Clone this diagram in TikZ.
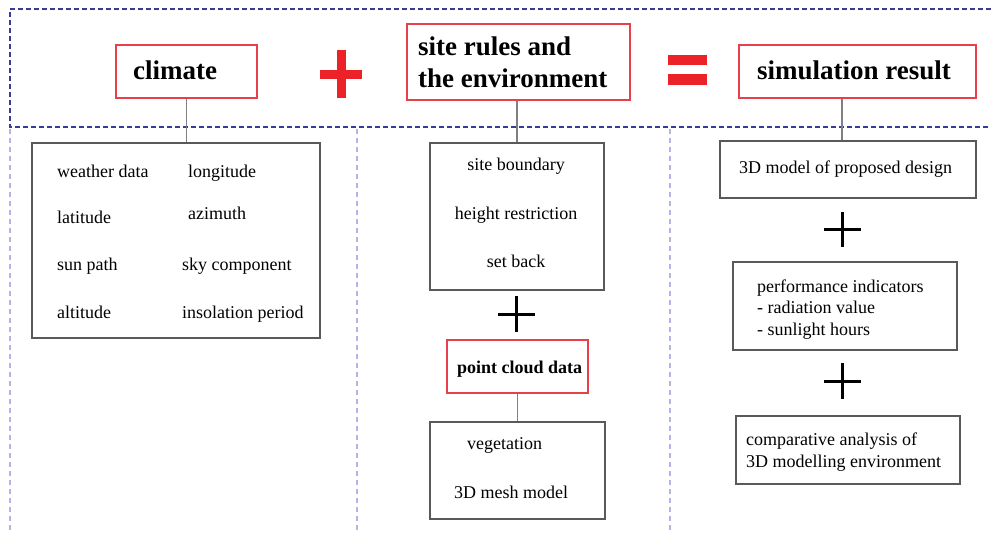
\documentclass[tikz,border=0pt]{standalone}
\usepackage{fontspec}
\setmainfont{Liberation Serif}
\usetikzlibrary{positioning}
\definecolor{boxred}{HTML}{E8404A}
\definecolor{signred}{HTML}{EC2229}
\definecolor{navydash}{HTML}{3A3A9C}
\definecolor{lavdash}{HTML}{B4B4E6}
\tikzset{
	headbox/.style={draw=boxred, line width=1.8pt, inner sep=0pt},
	itembox/.style={draw=black!65, line width=1.2pt, inner sep=0pt},
	headtxt/.style={anchor=base west, inner sep=0pt, font=\fontsize{27}{32}\selectfont\bfseries},
	item/.style={anchor=base west, inner sep=0pt, font=\fontsize{18}{21}\selectfont},
	link/.style={draw=black!50, line width=1.2pt},
	colsep/.style={lavdash, line width=1.4pt, dash pattern=on 5pt off 4pt}
	}

\begin{document}
\begin{tikzpicture}[x=1pt, y=-1pt]

	\useasboundingbox[fill=white] (0,0) rectangle (991,533);

	% dashed frame
	\draw[navydash, line width=1.1pt, dash pattern=on 5pt off 3pt] (991,9) -- (10,9) -- (10,127) -- (991,127);
	\draw[colsep] (10,129) -- (10,533);
	\draw[colsep] (357,129) -- (357,533);
	\draw[colsep] (670,129) -- (670,533);

	% headings
	\node[headbox, minimum width=141pt, minimum height=53pt] (climate) at (186.5,71.5) {};
	\node[headtxt] (climatetxt) at (133,79) {climate};
	\node[headbox, minimum width=223pt, minimum height=76pt] (site) at (518.5,62) {};
	\node[headtxt] (sitetxta) at (418,55) {site rules and};
	\node[headtxt] (sitetxtb) at (418,87) {the environment};
	\node[headbox, minimum width=237pt, minimum height=53pt] (simres) at (857.5,71.5) {};
	\node[headtxt] (simrestxt) at (757,79) {simulation result};

	% plus and equals
	\draw[signred, line width=9pt] (320,74) -- (362,74) (341,50) -- (341,98);
	\fill[signred] (668,55) rectangle (707,65);
	\fill[signred] (668,74) rectangle (707,85);

	% climate column
	\node[itembox, minimum width=288pt, minimum height=195pt] (climbox) at (176,240.5) {};
	\node[item] (weather) at (57,177) {weather data};
	\node[item] (latitude) at (57,223) {latitude};
	\node[item] (sunpath) at (57,270) {sun path};
	\node[item] (altitude) at (57,318) {altitude};
	\node[item] (longitude) at (188,177) {longitude};
	\node[item] (azimuth) at (188,219) {azimuth};
	\node[item] (sky) at (182,270) {sky component};
	\node[item] (insolation) at (182,318) {insolation period};
	\draw[link] (climate.south) -- (climate.south |- climbox.north);

	% site column
	\node[itembox, minimum width=174pt, minimum height=147pt] (sitebox) at (517,216.5) {};
	\node[item, anchor=base] (boundary) at (516,170) {site boundary};
	\node[item, anchor=base] (height) at (516,219) {height restriction};
	\node[item, anchor=base] (setback) at (516,267) {set back};
	\draw[link] (sitebox.north |- site.south) -- (sitebox.north);
	\draw[line width=3pt] (498,314) -- (535,314) (516.5,296) -- (516.5,332);
	\node[headbox, minimum width=141pt, minimum height=53pt] (cloud) at (517.5,366.5) {};
	\node[item, font=\fontsize{18}{21}\selectfont\bfseries] (cloudtxt) at (457,373) {point cloud data};
	\node[itembox, minimum width=175pt, minimum height=97pt] (vegbox) at (517.5,470.5) {};
	\node[item] (vegetation) at (467,449) {vegetation};
	\node[item] (mesh) at (454,498) {3D mesh model};
	\draw[link] (cloud.south) -- (vegbox.north);

	% result column
	\node[itembox, minimum width=256pt, minimum height=57pt] (model) at (848,169.5) {};
	\node[item] (modeltxt) at (739,173) {3D model of proposed design};
	\draw[link] ([xshift=-15.5pt]simres.south) -- ([xshift=-15.5pt]simres.south |- model.north);
	\draw[line width=3pt] (824,229.5) -- (861,229.5) (842.5,212) -- (842.5,247);
	\node[itembox, minimum width=224pt, minimum height=88pt] (perf) at (845,306) {};
	\node[item] (perfa) at (757,292) {performance indicators};
	\node[item] (perfb) at (757,313.5) {- radiation value};
	\node[item] (perfc) at (757,335) {- sunlight hours};
	\draw[line width=3pt] (824,381) -- (861,381) (842.5,363) -- (842.5,399);
	\node[itembox, minimum width=224pt, minimum height=68pt] (compare) at (848,450) {};
	\node[item] (comparea) at (746,445) {comparative analysis of};
	\node[item] (compareb) at (746,467) {3D modelling environment};

\end{tikzpicture}
\end{document}
